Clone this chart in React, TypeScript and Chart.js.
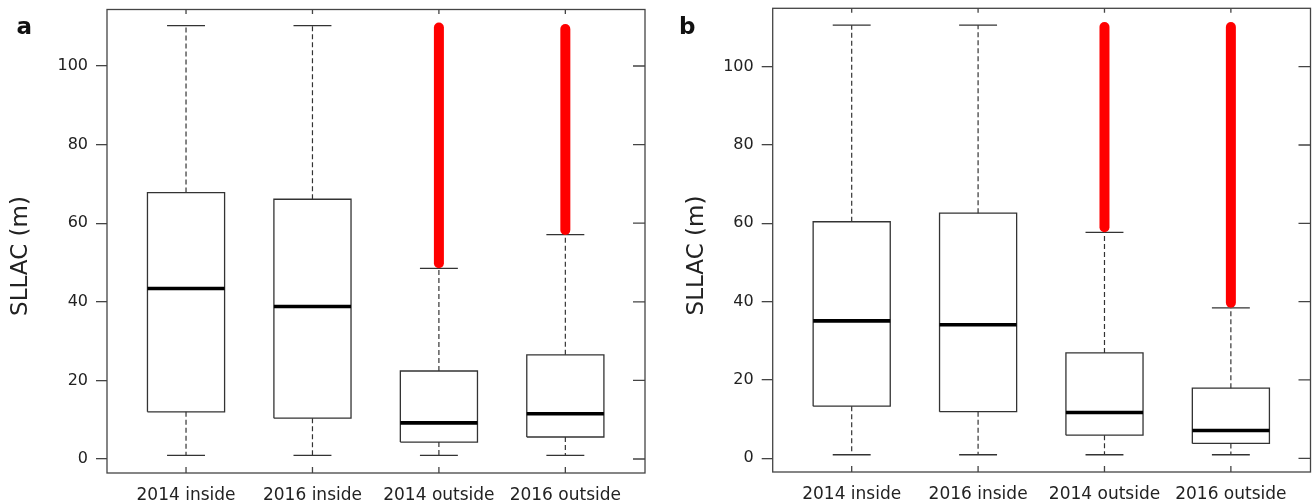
import React, { useEffect, useRef } from 'react';
import Chart from 'chart.js/auto';

const categories = ['2014 inside', '2016 inside', '2014 outside', '2016 outside'];
const yTicks = [0, 20, 40, 60, 80, 100];
const yTitle = 'SLLAC (m)';

// Panel a
const aLow = [0.9, 0.9, 0.9, 0.9];
const aQ1 = [12.0, 10.4, 4.3, 5.6];
const aMedian = [43.4, 38.8, 9.2, 11.5];
const aQ3 = [67.8, 66.1, 22.4, 26.5];
const aHigh = [110.3, 110.3, 48.5, 57.1];
const aOutlierLow = [null, null, 49.8, 58.3];
const aOutlierHigh = [null, null, 109.8, 109.4];

// Panel b
const bLow = [0.9, 0.9, 0.9, 0.9];
const bQ1 = [13.3, 11.9, 5.9, 3.8];
const bMedian = [35.1, 34.1, 11.7, 7.1];
const bQ3 = [60.4, 62.6, 26.9, 17.9];
const bHigh = [110.6, 110.6, 57.7, 38.4];
const bOutlierLow = [null, null, 59.0, 39.7];
const bOutlierHigh = [null, null, 110.1, 110.1];

const BOX_HALF = 0.305;
const CAP_HALF = 0.15;
const LINE = '#333';

function buildDatasets(low, q1, med, q3, high, outLow, outHigh) {
  const base = {
    showLine: true,
    pointRadius: 0,
    pointHoverRadius: 0,
    fill: false,
    tension: 0,
  };
  const ds: any[] = [];
  categories.forEach((_, i) => {
    const x = i + 1;
    ds.push({ ...base, data: [{ x, y: q3[i] }, { x, y: high[i] }], borderColor: LINE, borderWidth: 1.2, borderDash: [5, 3], order: 5 });
    ds.push({ ...base, data: [{ x, y: q1[i] }, { x, y: low[i] }], borderColor: LINE, borderWidth: 1.2, borderDash: [5, 3], order: 5 });
    ds.push({ ...base, data: [{ x: x - CAP_HALF, y: high[i] }, { x: x + CAP_HALF, y: high[i] }], borderColor: LINE, borderWidth: 1.3, order: 4 });
    ds.push({ ...base, data: [{ x: x - CAP_HALF, y: low[i] }, { x: x + CAP_HALF, y: low[i] }], borderColor: LINE, borderWidth: 1.3, order: 4 });
    ds.push({
      ...base,
      data: [
        { x: x - BOX_HALF, y: q1[i] },
        { x: x + BOX_HALF, y: q1[i] },
        { x: x + BOX_HALF, y: q3[i] },
        { x: x - BOX_HALF, y: q3[i] },
        { x: x - BOX_HALF, y: q1[i] },
      ],
      borderColor: LINE,
      borderWidth: 1.3,
      borderJoinStyle: 'miter',
      order: 3,
    });
    ds.push({ ...base, data: [{ x: x - BOX_HALF, y: med[i] }, { x: x + BOX_HALF, y: med[i] }], borderColor: '#000', borderWidth: 3.6, order: 2 });
    if (outLow[i] != null && outHigh[i] != null) {
      ds.push({ ...base, data: [{ x, y: outLow[i] }, { x, y: outHigh[i] }], borderColor: '#ff0000', borderWidth: 10, borderCapStyle: 'round', order: 1 });
    }
  });
  return ds;
}

const panels = [
  {
    key: 'a', label: 'a',
    low: aLow, q1: aQ1, med: aMedian, q3: aQ3, high: aHigh, outLow: aOutlierLow, outHigh: aOutlierHigh,
    yWidth: 107, padTop: 9.5, padRight: 11, xHeight: 31, yMin: -3.56, yMax: 114.38,
    labelX: 16.5, labelY: 34.3, titleX: 26.7, titleY: 256,
  },
  {
    key: 'b', label: 'b',
    low: bLow, q1: bQ1, med: bMedian, q3: bQ3, high: bHigh, outLow: bOutlierLow, outHigh: bOutlierHigh,
    yWidth: 116.7, padTop: 8.3, padRight: 1.5, xHeight: 32, yMin: -3.5, yMax: 114.9,
    labelX: 23, labelY: 34.3, titleX: 47.3, titleY: 255.5,
  },
];

function Panel({ cfg }) {
  const ref = useRef<HTMLCanvasElement | null>(null);
  useEffect(() => {
    if (!ref.current) return;
    const framePlugin = {
      id: 'frame' + cfg.key,
      afterDraw(chart) {
        const { ctx, chartArea } = chart;
        const { left, right, top, bottom } = chartArea;
        const xs = chart.scales.x;
        const ys = chart.scales.y;
        ctx.save();
        ctx.strokeStyle = '#444';
        ctx.lineWidth = 1.3;
        ctx.strokeRect(left, top, right - left, bottom - top);
        ctx.beginPath();
        yTicks.forEach((v) => {
          const py = ys.getPixelForValue(v);
          ctx.moveTo(right - 12, py);
          ctx.lineTo(right, py);
        });
        categories.forEach((_, i) => {
          const px = xs.getPixelForValue(i + 1);
          ctx.moveTo(px, top);
          ctx.lineTo(px, top + 4.5);
          ctx.moveTo(px, bottom - 6);
          ctx.lineTo(px, bottom);
        });
        ctx.stroke();
        ctx.fillStyle = '#111';
        ctx.font = 'bold 23px "DejaVu Sans"';
        ctx.textAlign = 'left';
        ctx.textBaseline = 'alphabetic';
        ctx.fillText(cfg.label, cfg.labelX, cfg.labelY);
        ctx.translate(cfg.titleX, cfg.titleY);
        ctx.rotate(-Math.PI / 2);
        ctx.font = '23px "DejaVu Sans"';
        ctx.fillStyle = '#222';
        ctx.textAlign = 'center';
        ctx.fillText(yTitle, 0, 0);
        ctx.restore();
      },
    };
    const chart = new Chart(ref.current, {
      type: 'scatter',
      data: { datasets: buildDatasets(cfg.low, cfg.q1, cfg.med, cfg.q3, cfg.high, cfg.outLow, cfg.outHigh) },
      options: {
        animation: false,
        responsive: false,
        devicePixelRatio: 1,
        events: [],
        layout: { padding: { top: cfg.padTop, right: cfg.padRight, left: 0, bottom: 0 } },
        plugins: { legend: { display: false }, tooltip: { enabled: false }, title: { display: false } },
        scales: {
          x: {
            type: 'linear',
            min: 0.375,
            max: 4.63,
            afterBuildTicks: (s) => { s.ticks = categories.map((_, i) => ({ value: i + 1 })); },
            afterFit: (s) => { s.height = cfg.xHeight; s.paddingLeft = 0; s.paddingRight = 0; },
            grid: { display: false, drawTicks: false },
            border: { display: false },
            ticks: {
              autoSkip: false,
              maxRotation: 0,
              padding: 12,
              color: '#222',
              font: { family: '"DejaVu Sans"', size: 17 },
              callback: (v) => categories[Math.round(Number(v)) - 1] ?? '',
            },
          },
          y: {
            type: 'linear',
            min: cfg.yMin,
            max: cfg.yMax,
            afterBuildTicks: (s) => { s.ticks = yTicks.map((v) => ({ value: v })); },
            afterFit: (s) => { s.width = cfg.yWidth; s.paddingTop = 0; s.paddingBottom = 0; },
            grid: { display: true, drawOnChartArea: false, drawTicks: true, tickLength: 11, color: '#444', lineWidth: 1.3 },
            border: { display: false },
            ticks: {
              padding: 8,
              color: '#222',
              font: { family: '"DejaVu Sans"', size: 16 },
              callback: (v) => String(v),
            },
          },
        },
      },
      plugins: [framePlugin],
    });
    return () => chart.destroy();
  }, [cfg]);
  return <canvas ref={ref} width={656} height={504} style={{ display: 'block', width: 656, height: 504 }} />;
}

export default function App() {
  return (
    <div style={{ position: 'absolute', left: 0, top: 0, width: 1312, height: 504, display: 'flex', background: '#fff' }}>
      {panels.map((p) => (
        <Panel key={p.key} cfg={p} />
      ))}
    </div>
  );
}
